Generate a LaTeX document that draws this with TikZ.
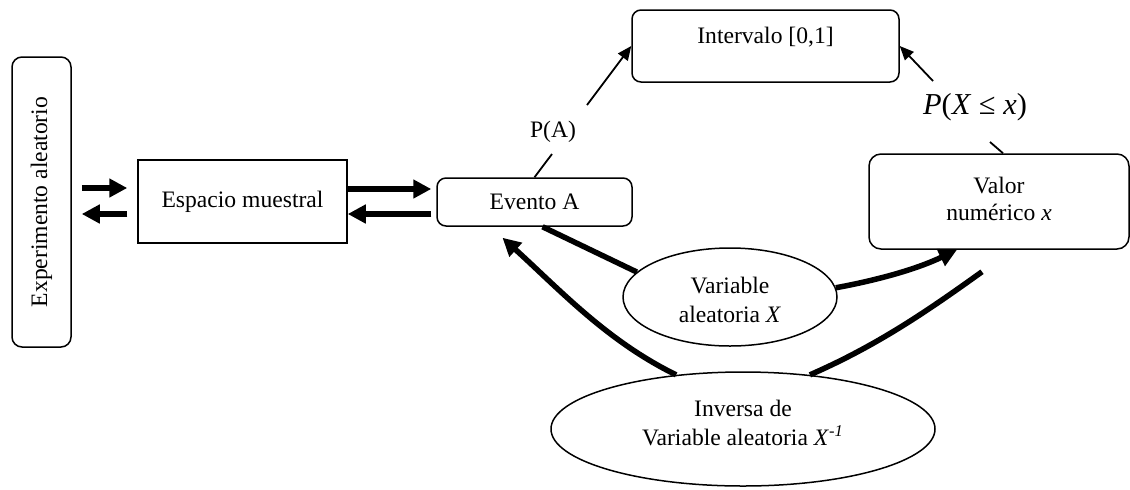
\documentclass[tikz,border=0pt]{standalone}
\usepackage{fontspec}
\setmainfont{Liberation Serif}
\usetikzlibrary{arrows.meta,shapes.geometric}
\begin{document}
\begin{tikzpicture}[x=0.5pt,y=-0.5pt,
  font=\fontsize{11.8}{14.5}\selectfont,
  box/.style={draw,line width=0.75pt,inner sep=0pt,align=center},
  rbox/.style={box,rounded corners=4.5pt},
  ell/.style={draw,ellipse,line width=0.75pt,inner sep=0pt,align=center},
  thk/.style={line width=2.75pt,-{Triangle[length=9pt,width=9pt]}},
  thkline/.style={line width=2.75pt},
  thn/.style={line width=0.9pt},
  thnarrow/.style={thn,-{Triangle[length=7pt,width=6pt]}},
  lbl/.style={inner sep=0pt}]
\useasboundingbox (0,0) rectangle (1130,489);

% nodes
\node[rbox,rounded corners=5pt,minimum width=29.5pt,minimum height=145pt] (exp) at (41.5,202) {\rotatebox{90}{Experimento aleatorio}};
\node[box,minimum width=104.5pt,minimum height=41.5pt] (esp) at (242.5,201.5) {Espacio muestral};
\node[rbox,minimum width=97.5pt,minimum height=24pt] (ev) at (534.5,202) {Evento A};
\node[rbox,minimum width=133.5pt,minimum height=36pt,text height=16.5pt,text depth=19.5pt] (int) at (765.5,46) {Intervalo [0,1]};
\node[rbox,rounded corners=6pt,minimum width=130pt,minimum height=47.5pt,text height=33pt,text depth=14.5pt,font=\fontsize{11.8}{13.5}\selectfont] (val) at (999,201.5) {Valor\\numérico \textit{x}};
\node[ell,minimum width=107pt,minimum height=49pt,text height=27pt,text depth=2pt] (var) at (730,297) {Variable\\aleatoria \textit{X}};
\node[ell,minimum width=192pt,minimum height=57pt,text height=18pt,text depth=2pt] (inv) at (743,429) {Inversa de\\Variable aleatoria \textit{X}\textsuperscript{\itshape -1}};
\node[lbl] (pa) at (553,132) {P(A)};
\node[lbl,font=\fontsize{15.2}{18}\selectfont] (pxl) at (975,107) {\textit{P}(\textit{X}~≤~\textit{x})};

% free ends
\coordinate (b1) at (552,154);
\coordinate (b2) at (587,105);
\coordinate (a1) at (933,81);
\coordinate (a2) at (990,142);

% thick arrows left
\draw[thk] ([xshift=5pt]exp.east |- 0,188) -- ([xshift=-5pt]esp.west |- 0,188);
\draw[thk] ([xshift=-5pt]esp.west |- 0,214) -- ([xshift=5pt]exp.east |- 0,214);
\draw[thk] (esp.east |- 0,189) -- ([xshift=-2.5pt]ev.west |- 0,189);
\draw[thk] ([xshift=-2.5pt]ev.west |- 0,214) -- (esp.east |- 0,214);

% probability lines
\draw[thn] (ev.north) -- (b1);
\draw[thnarrow] (b2) -- (int.west);
\draw[thnarrow] (a1) -- (int.east);
\draw[thn] (a2) -- ([xshift=2pt]val.north);

% random variable connectors
\draw[thkline] ([xshift=4pt]ev.south) -- (var.165);
\draw[thk] (var.5) .. controls (878,280) and (917,269) .. ([xshift=-21pt]val.south);
\draw[thk] (inv.141) .. controls (607,341) and (560,290) .. ([xshift=-16pt,yshift=-5.5pt]ev.south);
\draw[thkline] (inv.39) .. controls (876,346) and (926,312) .. ([xshift=-8.5pt,yshift=-11pt]val.south);
\end{tikzpicture}
\end{document}
